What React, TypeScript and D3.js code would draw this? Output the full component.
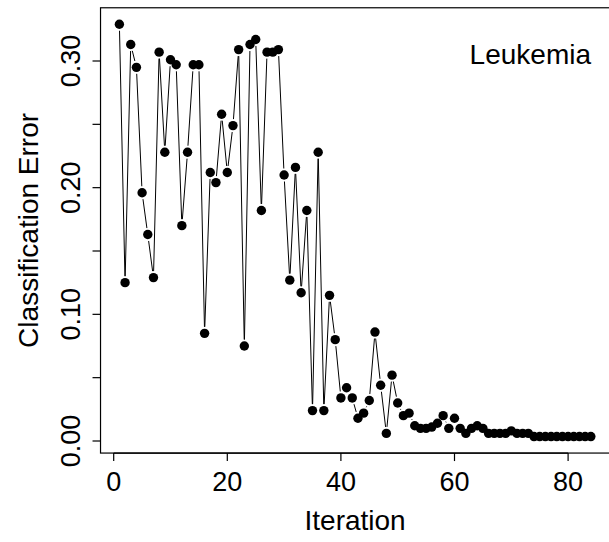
import React from "react";
import * as d3 from "d3";

const iterations: number[] = d3.range(1, 85);
const errors: number[] = [
  0.329, 0.125, 0.313, 0.295, 0.196, 0.163, 0.129, 0.307, 0.228, 0.301,
  0.297, 0.170, 0.228, 0.297, 0.297, 0.085, 0.212, 0.204, 0.258, 0.212,
  0.249, 0.309, 0.075, 0.313, 0.317, 0.182, 0.307, 0.307, 0.309, 0.210,
  0.127, 0.216, 0.117, 0.182, 0.024, 0.228, 0.024, 0.115, 0.080, 0.034,
  0.042, 0.034, 0.018, 0.022, 0.032, 0.086, 0.044, 0.006, 0.052, 0.030,
  0.020, 0.022, 0.012, 0.010, 0.010, 0.011, 0.014, 0.020, 0.010, 0.018,
  0.010, 0.006, 0.010, 0.012, 0.010, 0.006, 0.006, 0.006, 0.006, 0.008,
  0.006, 0.006, 0.006, 0.0035, 0.0035, 0.0035, 0.0035, 0.0035, 0.0035, 0.0035,
  0.0035, 0.0035, 0.0035, 0.0035,
];
const xTicks: number[] = [0, 20, 40, 60, 80];
const yTicks: number[] = [0, 0.05, 0.1, 0.15, 0.2, 0.25, 0.3];
const yLabels: number[] = [0, 0.1, 0.2, 0.3];
const title = "Leukemia";
const xTitle = "Iteration";
const yTitle = "Classification Error";

export default function App() {
  const W = 609, H = 542;
  const x = d3.scaleLinear().domain([0, 80]).range([113.7, 568.1]);
  const y = d3.scaleLinear().domain([0, 0.3]).range([441, 61]);
  const xMin = 1, xMax = 84;
  const xPad = (xMax - xMin) * 0.04;
  const yMin = d3.min(errors)!, yMax = d3.max(errors)!;
  const yPad = (yMax - yMin) * 0.04;
  const bx0 = x(xMin - xPad), bx1 = x(xMax + xPad);
  const by0 = y(yMax + yPad), by1 = y(yMin - yPad);
  const font = "'Liberation Sans', Arial, Helvetica, sans-serif";
  const fsTick = 27;
  const fsLab = 28;
  const r = 4.7;
  const gap = 6.5;

  const pts = iterations.map((it, i) => [x(it), y(errors[i])] as [number, number]);
  const segs: string[] = [];
  for (let i = 0; i < pts.length - 1; i++) {
    const [x1, y1] = pts[i];
    const [x2, y2] = pts[i + 1];
    const dx = x2 - x1, dy = y2 - y1;
    const L = Math.hypot(dx, dy);
    if (L <= 2 * gap) continue;
    const ux = dx / L, uy = dy / L;
    const p = d3.path();
    p.moveTo(x1 + ux * gap, y1 + uy * gap);
    p.lineTo(x2 - ux * gap, y2 - uy * gap);
    segs.push(p.toString());
  }

  return (
    <svg width={W} height={H} style={{ position: "absolute", left: 0, top: 0 }}>
      <rect x={0} y={0} width={W} height={H} fill="#fff" />
      <rect x={bx0} y={by0} width={bx1 - bx0} height={by1 - by0} fill="none" stroke="#000" strokeWidth={1.2} />
      <line x1={x(xTicks[0])} x2={x(xTicks[xTicks.length - 1])} y1={by1} y2={by1} stroke="#000" strokeWidth={1.2} />
      {xTicks.map((t) => (
        <g key={"xt" + t}>
          <line x1={x(t)} x2={x(t)} y1={by1} y2={by1 + 8} stroke="#000" strokeWidth={1.2} />
          <text x={x(t)} y={by1 + 38} textAnchor="middle" fontFamily={font} fontSize={fsTick} fill="#000">
            {t}
          </text>
        </g>
      ))}
      {yTicks.map((t) => (
        <line key={"yt" + t} x1={bx0 - 8} x2={bx0} y1={y(t)} y2={y(t)} stroke="#000" strokeWidth={1.2} />
      ))}
      {yLabels.map((t) => (
        <text
          key={"yl" + t}
          transform={`translate(${bx0 - 21},${y(t)}) rotate(-90)`}
          textAnchor="middle"
          fontFamily={font}
          fontSize={fsTick}
          fill="#000"
        >
          {t.toFixed(2)}
        </text>
      ))}
      <text x={(bx0 + bx1) / 2} y={530} textAnchor="middle" fontFamily={font} fontSize={fsLab} fill="#000">
        {xTitle}
      </text>
      <text
        transform={`translate(38,${(by0 + by1) / 2}) rotate(-90)`}
        textAnchor="middle"
        fontFamily={font}
        fontSize={fsLab}
        fill="#000"
      >
        {yTitle}
      </text>
      <text x={591} y={64} textAnchor="end" fontFamily={font} fontSize={fsLab} fill="#000">
        {title}
      </text>
      {segs.map((d, i) => (
        <path key={"s" + i} d={d} stroke="#000" strokeWidth={1} fill="none" />
      ))}
      {pts.map(([px, py], i) => (
        <circle key={"p" + i} cx={px} cy={py} r={r} fill="#000" />
      ))}
    </svg>
  );
}
